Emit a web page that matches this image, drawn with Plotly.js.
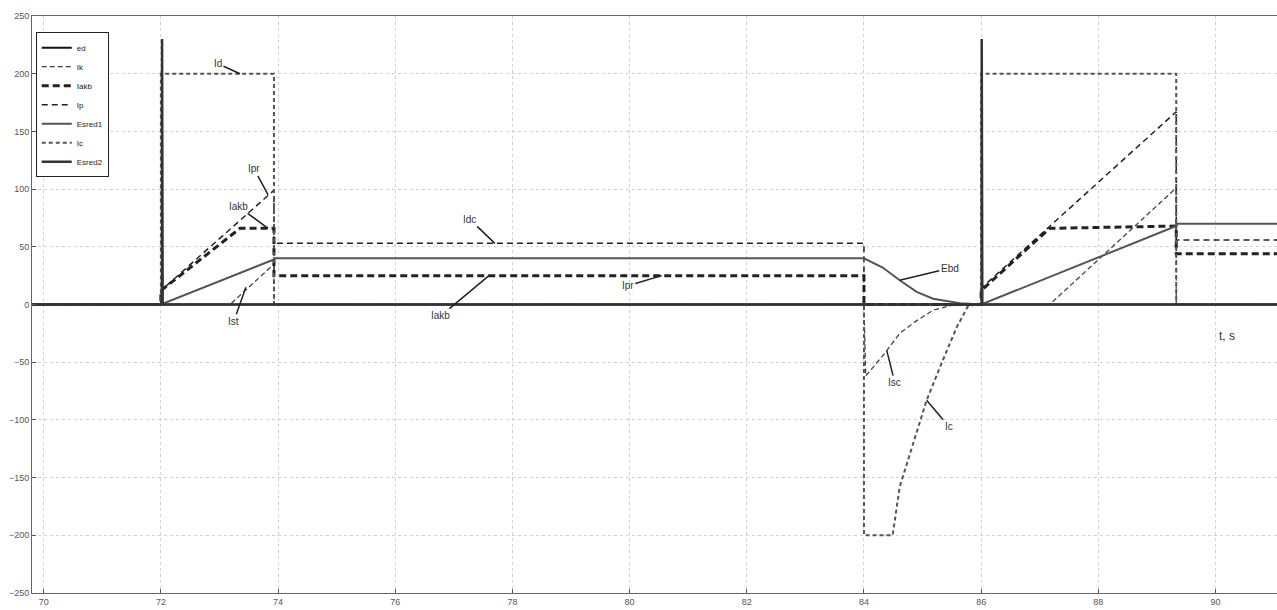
<!DOCTYPE html>
<html>
<head>
<meta charset="utf-8">
<script src="https://cdn.plot.ly/plotly-3.0.1.min.js"></script>
<style>html,body{margin:0;padding:0;background:#fff;}#chart{width:1277px;height:610px;}</style>
</head>
<body>
<div id="chart"></div>
<script>
// ---- data (time in s, currents / emf) ----
var seriesNames = ["ed", "Ik", "Iakb", "Ip", "Esred1", "Ic", "Esred2"];

// ed : base line
var edX = [69.8, 91.2];
var edY = [0, 0];

// Ik : starter current ramp and short-circuit decay
var ikX = [69.8, 73.18, 73.93, 73.93, 84.0, 84.03, 84.36, 84.61, 84.9, 85.18, 85.47, 85.72, 87.17, 89.33, 89.33, 91.2];
var ikY = [0, 0, 35, 0, 0, -62, -42, -25, -14, -5, -1, 0, 0, 101, 0, 0];

// Iakb : battery current
var iakbX = [69.8, 72.0, 72.0, 73.35, 73.93, 73.93, 84.0, 84.0, 86.0, 86.0, 87.17, 89.33, 89.33, 91.2];
var iakbY = [0, 0, 12, 66, 66, 25, 25, 0, 0, 12, 66, 68, 44, 44];

// Ip : converter current
var ipX = [69.8, 72.0, 72.0, 73.93, 73.93, 84.0, 84.0, 86.0, 86.0, 89.33, 89.33, 91.2];
var ipY = [0, 0, 12, 99, 53, 53, 0, 0, 14, 167, 56, 56];

// Esred1 : emf ramp, hold and decay
var e1X = [69.8, 72.0, 73.93, 73.93, 84.0, 84.32, 84.61, 84.9, 85.18, 85.64, 86.0, 89.33, 89.33, 91.2];
var e1Y = [0, 0, 39, 40, 40, 32, 21, 11, 5, 1, 0, 68, 70, 70];

// Ic : capacitor current
var icX = [69.8, 72.0, 72.0, 73.93, 73.93, 84.0, 84.0, 84.49, 84.61, 84.9, 85.07, 85.3, 85.58, 85.77, 85.9, 86.0, 86.0, 89.33, 89.33, 91.2];
var icY = [0, 0, 200, 200, 0, 0, -200, -200, -158, -111, -83, -54, -20, -2, 0, 0, 200, 200, 0, 0];

// Esred2 : switching spikes
var e2X = [69.8, 72.02, 72.02, 72.03, 86.01, 86.01, 86.02, 91.2];
var e2Y = [0, 0, 230, 0, 0, 230, 0, 0];

// annotation labels
var labText = ["Id", "Ipr", "Iakb", "Ist", "Idc", "Iakb", "Ipr", "Ebd", "Isc", "Ic"];
var labX    = [73.35, 73.83, 73.83, 73.45, 77.7, 77.6, 80.55, 84.61, 84.39, 85.07];
var labY    = [200, 95, 66, 15, 53, 25, 25, 21, -40, -83];
var labAX   = [-22, -14, -30, -12, -25, -48, -34, 50, 8, 22];
var labAY   = [-10, -26, -22, 34, -24, 40, 10, -12, 32, 26];

var xTickVals = [70, 72, 74, 76, 78, 80, 82, 84, 86, 88, 90];
var yTickVals = [-250, -200, -150, -100, -50, 0, 50, 100, 150, 200, 250];

var traces = [
  {x: edX, y: edY, name: seriesNames[0], mode: "lines", line: {color: "#111", width: 2}},
  {x: ikX, y: ikY, name: seriesNames[1], mode: "lines", line: {color: "#444", width: 1.3, dash: "5px,3px"}},
  {x: iakbX, y: iakbY, name: seriesNames[2], mode: "lines", line: {color: "#222", width: 3, dash: "7px,4px"}},
  {x: ipX, y: ipY, name: seriesNames[3], mode: "lines", line: {color: "#222", width: 1.5, dash: "6px,4px"}},
  {x: e1X, y: e1Y, name: seriesNames[4], mode: "lines", line: {color: "#555", width: 2}},
  {x: icX, y: icY, name: seriesNames[5], mode: "lines", line: {color: "#555", width: 2, dash: "4px,3px"}},
  {x: e2X, y: e2Y, name: seriesNames[6], mode: "lines", line: {color: "#333", width: 2.5}}
];

var anns = [];
for (var i = 0; i < labText.length; i++) {
  anns.push({x: labX[i], y: labY[i], xref: "x", yref: "y", text: labText[i],
    showarrow: true, arrowhead: 0, arrowwidth: 1.5, arrowcolor: "#222",
    ax: labAX[i], ay: labAY[i], font: {family: "Liberation Sans, Arial", size: 10, color: "#333"}});
}
anns.push({x: 90.2, y: -27, xref: "x", yref: "y", text: "t, s", showarrow: false,
  font: {family: "Liberation Sans, Arial", size: 12, color: "#333"}});

var layout = {
  width: 1277, height: 610,
  margin: {l: 32, r: 0, t: 16, b: 17},
  paper_bgcolor: "#fff", plot_bgcolor: "#fff",
  showlegend: true,
  legend: {x: 0.003, y: 0.972, xanchor: "left", yanchor: "top", bgcolor: "#fff",
    bordercolor: "#222", borderwidth: 1, font: {family: "Liberation Sans, Arial", size: 8, color: "#222"}},
  xaxis: {range: [69.8, 91.05], tickvals: xTickVals, ticks: "inside", ticklen: 4, tickcolor: "#555",
    showgrid: true, gridcolor: "#d2d2d2", griddash: "dot", gridwidth: 1,
    showline: true, linecolor: "#666", linewidth: 1, mirror: true, zeroline: false,
    tickfont: {family: "Liberation Sans, Arial", size: 9, color: "#555"}},
  yaxis: {range: [-250, 250], tickvals: yTickVals, ticks: "inside", ticklen: 4, tickcolor: "#555",
    showgrid: true, gridcolor: "#d2d2d2", griddash: "dot", gridwidth: 1,
    showline: true, linecolor: "#666", linewidth: 1, mirror: true, zeroline: false,
    tickfont: {family: "Liberation Sans, Arial", size: 9, color: "#555"}},
  annotations: anns
};

Plotly.newPlot("chart", traces, layout, {staticPlot: true});
</script>
</body>
</html>
